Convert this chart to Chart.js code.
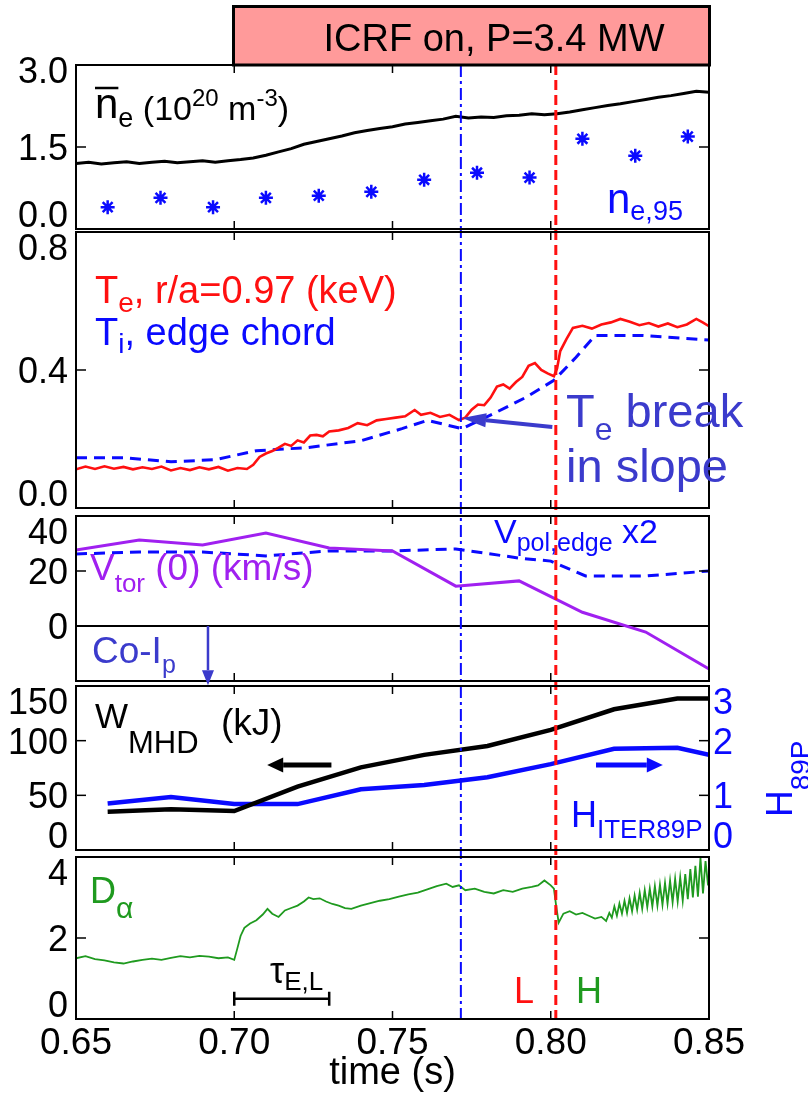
<!DOCTYPE html>
<html>
<head>
<meta charset="utf-8">
<script src="https://cdn.jsdelivr.net/npm/chart.js@4.4.0/dist/chart.umd.min.js"></script>
<style>
  html, body { margin: 0; padding: 0; background: #fff; }
  canvas { display: block; }
</style>
</head>
<body>
<canvas id="chart" width="808" height="1093"></canvas>
<script>
// time axis
const timeTicks = [0.65, 0.70, 0.75, 0.80, 0.85];
const eventTimes = [0.7716, 0.8016];   // Te break (dash-dot), L-H transition (dashed)
const tauWindow = [0.70, 0.73];

// panel 1: line averaged density and n_e,95
const neTicks = [0, 1.5, 3.0];
const neTime = [0.650, 0.654, 0.658, 0.662, 0.666, 0.670, 0.674, 0.678, 0.682, 0.686, 0.690, 0.694, 0.698,
  0.702, 0.706, 0.710, 0.714, 0.718, 0.722, 0.726, 0.730, 0.734, 0.738, 0.742, 0.746, 0.750, 0.754, 0.758,
  0.762, 0.766, 0.770, 0.774, 0.778, 0.782, 0.786, 0.790, 0.794, 0.798, 0.802, 0.806, 0.810, 0.814, 0.818,
  0.822, 0.826, 0.830, 0.834, 0.838, 0.842, 0.846, 0.850];
const neValue = [1.20, 1.22, 1.19, 1.21, 1.23, 1.20, 1.22, 1.24, 1.21, 1.23, 1.25, 1.22, 1.25,
  1.27, 1.30, 1.35, 1.41, 1.47, 1.55, 1.60, 1.65, 1.70, 1.76, 1.80, 1.84, 1.87, 1.92, 1.95,
  1.98, 2.01, 2.06, 2.03, 2.05, 2.04, 2.07, 2.08, 2.11, 2.09, 2.11, 2.14, 2.18, 2.22, 2.26,
  2.29, 2.33, 2.37, 2.41, 2.44, 2.48, 2.52, 2.50];
const ne95Time = [0.660, 0.6767, 0.6933, 0.710, 0.7267, 0.7433, 0.760, 0.7767, 0.7933, 0.810, 0.8267, 0.8433];
const ne95Value = [0.40, 0.57, 0.40, 0.57, 0.61, 0.68, 0.90, 1.03, 0.94, 1.65, 1.34, 1.69];

// panel 2: edge temperatures (keV)
const tTicks = [0, 0.4, 0.8];
const teTime = [0.650, 0.653, 0.656, 0.659, 0.662, 0.665, 0.668, 0.671, 0.674, 0.677, 0.680, 0.683, 0.686,
  0.689, 0.692, 0.695, 0.698, 0.701, 0.704, 0.706, 0.708, 0.710, 0.712, 0.714, 0.716, 0.718, 0.720, 0.722,
  0.724, 0.726, 0.728, 0.730, 0.733, 0.736, 0.739, 0.742, 0.745, 0.748, 0.751, 0.754, 0.757, 0.759, 0.762,
  0.765, 0.768, 0.771, 0.773, 0.775, 0.777, 0.779, 0.781, 0.783, 0.785, 0.787, 0.789, 0.791, 0.793, 0.795,
  0.797, 0.799, 0.801, 0.802, 0.803, 0.805, 0.807, 0.810, 0.813, 0.816, 0.819, 0.822, 0.825, 0.828, 0.831,
  0.834, 0.837, 0.840, 0.843, 0.846, 0.848, 0.850];
const teValue = [0.112, 0.120, 0.113, 0.121, 0.114, 0.119, 0.112, 0.118, 0.113, 0.120, 0.109, 0.116, 0.110,
  0.118, 0.112, 0.119, 0.108, 0.116, 0.113, 0.125, 0.148, 0.158, 0.165, 0.175, 0.186, 0.180, 0.196, 0.190,
  0.210, 0.212, 0.208, 0.222, 0.225, 0.232, 0.246, 0.240, 0.254, 0.258, 0.262, 0.266, 0.284, 0.270, 0.276,
  0.264, 0.270, 0.255, 0.262, 0.285, 0.300, 0.298, 0.320, 0.352, 0.358, 0.346, 0.365, 0.380, 0.412, 0.420,
  0.400, 0.390, 0.382, 0.405, 0.455, 0.490, 0.522, 0.528, 0.520, 0.532, 0.538, 0.548, 0.540, 0.530, 0.536,
  0.526, 0.535, 0.524, 0.532, 0.548, 0.538, 0.527];
const tiTime = [0.650, 0.665, 0.680, 0.694, 0.707, 0.723, 0.740, 0.753, 0.761, 0.772, 0.782, 0.792, 0.801,
  0.808, 0.814, 0.829, 0.850];
const tiValue = [0.146, 0.146, 0.134, 0.140, 0.166, 0.175, 0.195, 0.230, 0.254, 0.230, 0.274, 0.320, 0.370,
  0.437, 0.500, 0.500, 0.487];

// panel 3: rotation (km/s)
const vTicks = [0, 20, 40];
const vtorTime = [0.65, 0.67, 0.69, 0.71, 0.73, 0.75, 0.77, 0.79, 0.81, 0.83, 0.85];
const vtorValue = [27.6, 31.3, 29.5, 33.8, 28.4, 27.3, 14.5, 16.4, 5.0, -2.2, -15.6];
const vpolTime = [0.65, 0.67, 0.69, 0.71, 0.73, 0.75, 0.77, 0.79, 0.80, 0.811, 0.83, 0.85];
const vpolValue = [26.2, 26.9, 26.9, 25.5, 27.3, 27.3, 28.0, 24.7, 23.6, 18.2, 18.2, 20.0];

// panel 4: stored energy and confinement factor
const wTicks = [0, 50, 100, 150];
const hTicks = [0, 1, 2, 3];
const wTime = [0.66, 0.68, 0.70, 0.72, 0.74, 0.76, 0.78, 0.80, 0.82, 0.84, 0.85];
const wValue = [35.0, 37.2, 35.6, 57.9, 75.6, 87.0, 95.2, 109.8, 128.7, 138.6, 138.6];
const hValue = [0.85, 0.97, 0.84, 0.84, 1.11, 1.19, 1.33, 1.57, 1.85, 1.87, 1.74];

// panel 5: D-alpha
const daTicks = [0, 2, 4];
const daTime = [0.650, 0.653, 0.656, 0.659, 0.662, 0.665, 0.668, 0.671, 0.674, 0.677, 0.680, 0.683, 0.686,
  0.689, 0.692, 0.695, 0.698, 0.700, 0.701, 0.702, 0.7032, 0.705, 0.707, 0.709, 0.7105, 0.712, 0.714, 0.716,
  0.718, 0.720, 0.722, 0.7235, 0.725, 0.727, 0.729, 0.731, 0.733, 0.735, 0.737, 0.740, 0.743, 0.746, 0.749,
  0.752, 0.755, 0.758, 0.761, 0.764, 0.767, 0.769, 0.771, 0.773, 0.776, 0.779, 0.782, 0.785, 0.788, 0.791,
  0.794, 0.796, 0.798, 0.800, 0.801, 0.8017, 0.8025, 0.804, 0.806, 0.808, 0.810, 0.812, 0.814, 0.816, 0.8175,
  0.8185, 0.8193, 0.8201, 0.8209, 0.8217, 0.8225, 0.8233, 0.8241, 0.8249, 0.8257, 0.8265, 0.8273, 0.8281,
  0.8289, 0.8297, 0.8305, 0.8313, 0.8321, 0.8329, 0.8337, 0.8345, 0.8353, 0.8361, 0.8369, 0.8377, 0.8385,
  0.8393, 0.8401, 0.8409, 0.8417, 0.8425, 0.8433, 0.8441, 0.8449, 0.8457, 0.8465, 0.8473, 0.8481, 0.8489,
  0.8497, 0.8500];
const daValue = [1.50, 1.55, 1.48, 1.45, 1.40, 1.37, 1.42, 1.46, 1.49, 1.46, 1.51, 1.55, 1.52,
  1.56, 1.54, 1.50, 1.52, 1.46, 1.75, 2.05, 2.25, 2.36, 2.44, 2.58, 2.72, 2.60, 2.52, 2.68,
  2.74, 2.80, 2.90, 3.00, 2.96, 2.98, 2.90, 2.84, 2.80, 2.74, 2.72, 2.80, 2.86, 2.92, 2.96,
  3.02, 3.08, 3.12, 3.20, 3.28, 3.34, 3.26, 3.30, 3.18, 3.22, 3.14, 3.10, 3.18, 3.14, 3.22,
  3.26, 3.30, 3.42, 3.30, 3.22, 2.80, 2.38, 2.60, 2.66, 2.58, 2.62, 2.55, 2.48, 2.52, 2.42,
  2.62, 2.50, 2.78, 2.55, 2.85, 2.60, 2.92, 2.62, 2.98, 2.66, 3.05, 2.70, 3.12,
  2.72, 3.18, 2.76, 3.22, 2.78, 3.28, 2.80, 3.32, 2.82, 3.36, 2.85, 3.42, 2.88,
  3.46, 2.90, 3.50, 2.92, 3.58, 2.96, 3.70, 3.00, 3.78, 3.02, 3.98, 3.10, 3.90,
  3.30, 3.55];

const FONT = "'Liberation Sans', Arial, Helvetica, sans-serif";
Chart.defaults.font.family = FONT;

const BLUE = '#0a0aff';
const RED = '#ff1010';
const SLATE = '#3b3bcc';
const PURPLE = '#a020f0';
const GREEN = '#1f9a1f';

const PANELS = [
  { id: 'y1', top: 65, bottom: 229, labelTop: -8 },
  { id: 'y2', top: 232, bottom: 508 },
  { id: 'y3', top: 516, bottom: 681 },
  { id: 'y4', top: 686, bottom: 850, right: 'y4r' },
  { id: 'y5', top: 857, bottom: 1019 }
];

function pts(xs, ys) {
  return xs.map((x, i) => ({ x: x, y: ys[i] }));
}

function fixedTicks(list) {
  return (axis) => { axis.ticks = list.map(v => ({ value: v })); };
}

function richText(ctx, x, y, parts, color) {
  ctx.fillStyle = color;
  ctx.textAlign = 'left';
  ctx.textBaseline = 'alphabetic';
  for (const [t, size, dy] of parts) {
    ctx.font = size + 'px ' + FONT;
    ctx.fillText(t, x, y + (dy || 0));
    x += ctx.measureText(t).width;
  }
  return x;
}

function arrow(ctx, x1, y1, x2, y2, color, lw, head, headW) {
  const a = Math.atan2(y2 - y1, x2 - x1);
  const bx = x2 - head * Math.cos(a), by = y2 - head * Math.sin(a);
  ctx.strokeStyle = color;
  ctx.fillStyle = color;
  ctx.lineWidth = lw;
  ctx.setLineDash([]);
  ctx.beginPath();
  ctx.moveTo(x1, y1);
  ctx.lineTo(bx, by);
  ctx.stroke();
  ctx.beginPath();
  ctx.moveTo(x2, y2);
  ctx.lineTo(bx + headW / 2 * Math.sin(a), by - headW / 2 * Math.cos(a));
  ctx.lineTo(bx - headW / 2 * Math.sin(a), by + headW / 2 * Math.cos(a));
  ctx.closePath();
  ctx.fill();
}

function seg(ctx, x1, y1, x2, y2) {
  ctx.beginPath();
  ctx.moveTo(x1, y1);
  ctx.lineTo(x2, y2);
  ctx.stroke();
}

function tickLabels(ctx, scale, p, xPos, align, color) {
  const size = 36;
  const cap = 0.72 * size;
  ctx.font = size + 'px ' + FONT;
  ctx.fillStyle = color;
  ctx.textAlign = align;
  ctx.textBaseline = 'alphabetic';
  const topLimit = p.top + (p.labelTop != null ? p.labelTop : 2);
  scale.ticks.forEach(tk => {
    if (!tk.label) return;
    let c = scale.getPixelForValue(tk.value);
    if (c - cap / 2 < topLimit) c = topLimit + cap / 2;
    if (c + cap / 2 > p.bottom - 2) c = p.bottom - 2 - cap / 2;
    ctx.fillText(tk.label, xPos, c + cap / 2);
  });
}

const panelPlugin = {
  id: 'panels',
  afterLayout(chart) {
    for (const p of PANELS) {
      for (const id of [p.id, p.right]) {
        if (!id) continue;
        const s = chart.scales[id];
        s.top = p.top;
        s.bottom = p.bottom;
        s.height = p.bottom - p.top;
        s.configure();
      }
    }
  },
  beforeDatasetsDraw(chart) {
    const { ctx, chartArea: a, scales } = chart;
    const y0 = scales.y3.getPixelForValue(0);
    ctx.save();
    ctx.strokeStyle = '#000';
    ctx.lineWidth = 2;
    seg(ctx, a.left, y0, a.right, y0);
    ctx.restore();
  },
  afterDatasetsDraw(chart) {
    const { ctx, chartArea: a, scales } = chart;
    const x = scales.x;
    ctx.save();

    // vertical markers through all panels
    eventTimes.forEach((t, i) => {
      const px = x.getPixelForValue(t);
      ctx.strokeStyle = i === 0 ? BLUE : RED;
      ctx.lineWidth = i === 0 ? 2 : 3;
      ctx.setLineDash(i === 0 ? [12, 4, 3, 4] : [10, 5]);
      seg(ctx, px, PANELS[0].top, px, PANELS[PANELS.length - 1].bottom);
    });
    ctx.setLineDash([]);

    // frames, inward ticks and tick labels
    ctx.strokeStyle = '#000';
    for (const p of PANELS) {
      ctx.lineWidth = 2;
      ctx.strokeRect(a.left, p.top, a.right - a.left, p.bottom - p.top);
      ctx.lineWidth = 1.5;
      for (const t of timeTicks) {
        const px = x.getPixelForValue(t);
        if (px <= a.left + 1 || px >= a.right - 1) continue;
        seg(ctx, px, p.top, px, p.top + 8);
        seg(ctx, px, p.bottom, px, p.bottom - 8);
      }
      const left = scales[p.id];
      const right = scales[p.right || p.id];
      left.ticks.forEach(tk => {
        const py = left.getPixelForValue(tk.value);
        if (py > p.top + 1 && py < p.bottom - 1) seg(ctx, a.left, py, a.left + 10, py);
      });
      right.ticks.forEach(tk => {
        const py = right.getPixelForValue(tk.value);
        if (py > p.top + 1 && py < p.bottom - 1) seg(ctx, a.right, py, a.right - 10, py);
      });
      tickLabels(ctx, left, p, a.left - 8, 'right', '#000');
      if (p.right) tickLabels(ctx, right, p, a.right + 4, 'left', BLUE);
    }

    // panel 1 text
    const nEnd = richText(ctx, 95, 118, [['n', 42, 0]], '#000');
    ctx.strokeStyle = '#000';
    ctx.lineWidth = 2.5;
    seg(ctx, 95, 88, nEnd, 88);
    richText(ctx, nEnd, 118, [['e', 27, 9], [' (10', 34, 2], ['20', 24, -12], [' m', 34, 2], ['-3', 24, -12], [')', 34, 2]], '#000');
    richText(ctx, 607, 213, [['n', 42, 0], ['e,95', 27, 7]], BLUE);

    // panel 2 text
    richText(ctx, 95, 303, [['T', 38, 0], ['e', 28, 9], [', r/a=0.97 (keV)', 38, 0]], RED);
    richText(ctx, 95, 345, [['T', 38, 0], ['i', 28, 8], [', edge chord', 38, 0]], BLUE);
    richText(ctx, 566, 427, [['T', 47, 0], ['e', 32, 13], [' break', 47, 0]], SLATE);
    richText(ctx, 566, 482, [['in slope', 47, 0]], SLATE);
    arrow(ctx, x.getPixelForValue(0.8005), scales.y2.getPixelForValue(0.235),
      x.getPixelForValue(0.772), scales.y2.getPixelForValue(0.261), SLATE, 4, 24, 14);

    // panel 3 text
    richText(ctx, 494, 543, [['V', 34, 0], ['pol,edge', 25, 8], [' x2', 34, 0]], BLUE);
    richText(ctx, 90, 580, [['V', 37, 0], ['tor', 26, 12], [' (0) (km/s)', 37, 0]], PURPLE);
    richText(ctx, 92, 663, [['Co-I', 37, 0], ['p', 25, 10]], SLATE);
    arrow(ctx, x.getPixelForValue(0.6917), scales.y3.getPixelForValue(0),
      x.getPixelForValue(0.6917), scales.y3.getPixelForValue(-21.5), SLATE, 2.5, 15, 12);

    // panel 4 text
    richText(ctx, 95, 728, [['W', 35, 0], ['MHD', 31, 25]], '#000');
    richText(ctx, 221, 735, [['(kJ)', 37, 0]], '#000');
    richText(ctx, 571, 827, [['H', 36, 0], ['ITER89P', 26, 11]], BLUE);
    arrow(ctx, x.getPixelForValue(0.7307), scales.y4.getPixelForValue(77.8),
      x.getPixelForValue(0.7104), scales.y4.getPixelForValue(77.8), '#000', 5, 16, 15);
    arrow(ctx, x.getPixelForValue(0.8143), scales.y4r.getPixelForValue(1.555),
      x.getPixelForValue(0.8354), scales.y4r.getPixelForValue(1.555), BLUE, 5, 16, 15);
    ctx.save();
    ctx.translate(792, 817);
    ctx.rotate(-Math.PI / 2);
    richText(ctx, 0, 0, [['H', 37, 0], ['89P', 28, 18]], BLUE);
    ctx.restore();

    // panel 5 text
    richText(ctx, 90, 903, [['D', 36, 0], ['α', 30, 15]], GREEN);
    richText(ctx, 270, 983, [['τ', 36, 0], ['E,L', 26, 7]], '#000');
    const by = scales.y5.getPixelForValue(0.5);
    const bx1 = x.getPixelForValue(tauWindow[0]), bx2 = x.getPixelForValue(tauWindow[1]);
    ctx.strokeStyle = '#000';
    ctx.lineWidth = 2.5;
    seg(ctx, bx1, by, bx2, by);
    seg(ctx, bx1, by - 7, bx1, by + 7);
    seg(ctx, bx2, by - 7, bx2, by + 7);
    richText(ctx, 514, 1003, [['L', 36, 0]], RED);
    richText(ctx, 576, 1003, [['H', 36, 0]], GREEN);

    ctx.restore();
  },
  afterDraw(chart) {
    const ctx = chart.ctx;
    ctx.save();
    ctx.fillStyle = '#ff9a9a';
    ctx.fillRect(233, 6, 476, 59);
    ctx.strokeStyle = '#000';
    ctx.lineWidth = 3;
    ctx.strokeRect(233.5, 6.5, 476, 58.5);
    ctx.font = '38px ' + FONT;
    ctx.fillStyle = '#000';
    ctx.textAlign = 'center';
    ctx.textBaseline = 'alphabetic';
    ctx.fillText('ICRF on, P=3.4 MW', 494, 51);
    ctx.restore();
  }
};

const hiddenY = (min, max, list, fmt, pos) => ({
  type: 'linear',
  display: false,
  position: pos || 'left',
  min: min,
  max: max,
  afterBuildTicks: fixedTicks(list),
  ticks: { callback: fmt }
});

const chart = new Chart(document.getElementById('chart'), {
  type: 'line',
  data: {
    datasets: [
      { data: pts(neTime, neValue), yAxisID: 'y1', borderColor: '#000', borderWidth: 3, pointRadius: 0 },
      { data: pts(ne95Time, ne95Value), yAxisID: 'y1', showLine: false, pointStyle: 'star',
        pointRadius: 7, pointBorderWidth: 2.5, pointBorderColor: BLUE, borderColor: BLUE },
      { data: pts(teTime, teValue), yAxisID: 'y2', borderColor: RED, borderWidth: 2.6, pointRadius: 0 },
      { data: pts(tiTime, tiValue), yAxisID: 'y2', borderColor: BLUE, borderWidth: 3, borderDash: [11, 7], pointRadius: 0 },
      { data: pts(vtorTime, vtorValue), yAxisID: 'y3', borderColor: PURPLE, borderWidth: 3, pointRadius: 0 },
      { data: pts(vpolTime, vpolValue), yAxisID: 'y3', borderColor: BLUE, borderWidth: 3, borderDash: [11, 7], pointRadius: 0 },
      { data: pts(wTime, wValue), yAxisID: 'y4', borderColor: '#000', borderWidth: 4.5, pointRadius: 0 },
      { data: pts(wTime, hValue), yAxisID: 'y4r', borderColor: BLUE, borderWidth: 4.5, pointRadius: 0 },
      { data: pts(daTime, daValue), yAxisID: 'y5', borderColor: GREEN, borderWidth: 1.8, pointRadius: 0 }
    ]
  },
  options: {
    responsive: false,
    maintainAspectRatio: false,
    animation: false,
    events: [],
    layout: { padding: { left: 76, right: 99, top: 65, bottom: 0 } },
    plugins: { legend: { display: false }, tooltip: { enabled: false } },
    elements: { line: { tension: 0 } },
    scales: {
      x: {
        type: 'linear',
        min: 0.65,
        max: 0.85,
        afterBuildTicks: fixedTicks(timeTicks),
        afterFit: (s) => { s.height = 74; },
        grid: { display: false, drawTicks: false },
        border: { display: false },
        ticks: { callback: v => v.toFixed(2), color: '#000', font: { size: 37 }, padding: 3, maxRotation: 0, autoSkip: false },
        title: { display: true, text: 'time (s)', color: '#000', font: { size: 38, lineHeight: 1 }, padding: 0 }
      },
      y1: hiddenY(0, 3, neTicks, v => v.toFixed(1)),
      y2: hiddenY(0, 0.8, tTicks, v => v.toFixed(1)),
      y3: hiddenY(-20, 40, vTicks, v => String(v)),
      y4: hiddenY(0, 150, wTicks, v => String(v)),
      y4r: hiddenY(0, 3, hTicks, v => String(v), 'right'),
      y5: hiddenY(0, 4, daTicks, v => String(v))
    }
  },
  plugins: [panelPlugin]
});
</script>
</body>
</html>
